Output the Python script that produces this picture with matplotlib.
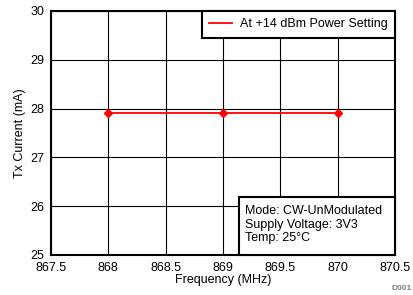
import numpy as np
import matplotlib.pyplot as plt
from matplotlib.patches import Rectangle

plt.rcParams["font.family"] = ["Liberation Sans", "DejaVu Sans"]
plt.rcParams["font.size"] = 9

# data
freq = [868, 869, 870]
tx_current = [27.9, 27.9, 27.9]
xticks = [867.5, 868, 868.5, 869, 869.5, 870, 870.5]
yticks = [25, 26, 27, 28, 29, 30]

fig = plt.figure(figsize=(4.14, 2.95), dpi=100)
ax = fig.add_axes([0.123, 0.136, 0.831, 0.827])

ax.plot(freq, tx_current, color="red", linewidth=1.3, marker="D", markersize=4,
        label="At +14 dBm Power Setting", zorder=3)

ax.set_xlim(867.5, 870.5)
ax.set_ylim(25, 30)
ax.set_xticks(xticks)
ax.set_xticklabels(["867.5", "868", "868.5", "869", "869.5", "870", "870.5"])
ax.set_yticks(yticks)
ax.grid(True, color="black", linewidth=0.8)
ax.tick_params(axis="x", length=0, pad=5)
ax.tick_params(axis="y", length=0, pad=5)
for s in ax.spines.values():
    s.set_linewidth(1.5)

ax.set_xlabel("Frequency (MHz)", labelpad=0)
ax.set_ylabel("Tx Current (mA)", labelpad=3)

leg = ax.legend(loc="upper right", borderaxespad=0, fancybox=False,
                framealpha=1, edgecolor="black", handlelength=1.8,
                handletextpad=0.65, borderpad=0.6)
leg.get_frame().set_linewidth(1.5)
leg.get_lines()[0].set_marker("")

# condition box in the lower right corner
ax.add_patch(Rectangle((0.547, 0), 0.453, 0.238, transform=ax.transAxes,
                       facecolor="white", edgecolor="black", linewidth=1.5,
                       zorder=4, clip_on=False))
ax.text(0.564, 0.205, "Mode: CW-UnModulated\nSupply Voltage: 3V3\nTemp: 25\u00b0C",
        transform=ax.transAxes, ha="left", va="top", linespacing=1.2, zorder=5)

fig.text(0.995, 0.01, "D001", ha="right", va="bottom", fontsize=6,
         color="gray", fontweight="bold")

fig.savefig("out.png", dpi=100)
